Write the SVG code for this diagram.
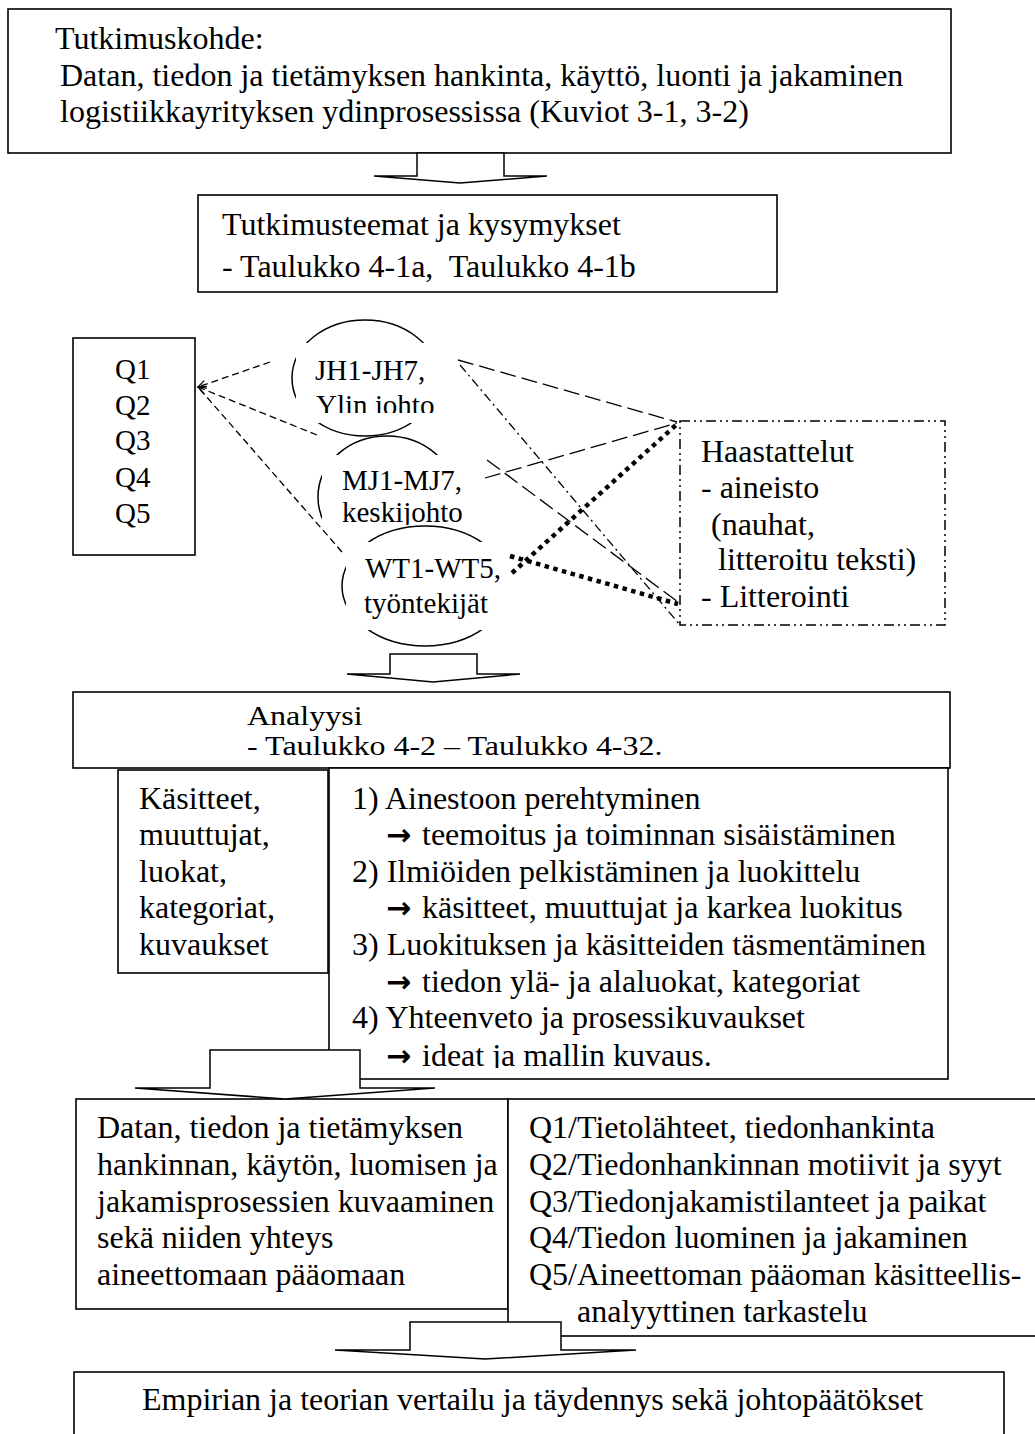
<svg xmlns="http://www.w3.org/2000/svg" width="1035" height="1434" viewBox="0 0 1035 1434">
  <style>
    .t { font-family: "Liberation Serif", "Times New Roman", serif; font-size: 32px; fill: #000; white-space: pre; }
    .s { font-size: 29px; }
    .arw { font-family: "DejaVu Sans", sans-serif; font-size: 30px; font-weight: bold; }
    .box { fill: #fff; stroke: #000; stroke-width: 1.6; }
    .ddbox { fill: #fff; stroke: #000; stroke-width: 1.5; stroke-dasharray: 10 4 2 4 2 4; }
    .oval { fill: #fff; stroke: #000; stroke-width: 1.5; }
    .cover { fill: #fff; stroke: none; }
    .short { fill: none; stroke: #000; stroke-width: 1.3; stroke-dasharray: 7 4; }
    .long { fill: none; stroke: #000; stroke-width: 1.3; stroke-dasharray: 16 6; }
    .dashdot { fill: none; stroke: #000; stroke-width: 1.3; stroke-dasharray: 9 4 2 4; }
    .thick { fill: none; stroke: #000; stroke-width: 4.5; stroke-dasharray: 4.5 4.5; }
    .block { fill: #fff; stroke: #000; stroke-width: 1.5; stroke-linejoin: miter; }
  </style>
  <defs>
    <marker id="open" markerUnits="userSpaceOnUse" markerWidth="20" markerHeight="20" refX="0" refY="0" viewBox="-10 -10 20 20" orient="auto">
      <path d="M-8,-4 L0,0 L-8,4" fill="none" stroke="#000" stroke-width="1.3"/>
    </marker>
    <clipPath id="clipJH"><rect x="290" y="330" width="160" height="83"/></clipPath>
    <clipPath id="clipMJ"><rect x="320" y="450" width="150" height="75"/></clipPath>
    <clipPath id="clipSteps"><rect x="330" y="770" width="617" height="298"/></clipPath>
  </defs>

  <!-- research object -->
  <g id="kohde">
    <rect class="box" x="8" y="9" width="943" height="144"/>
    <text class="t" x="55" y="49">Tutkimuskohde:</text>
    <text class="t" x="60" y="86">Datan, tiedon ja tietämyksen hankinta, käyttö, luonti ja jakaminen</text>
    <text class="t" x="60" y="122">logistiikkayrityksen ydinprosessissa (Kuviot 3-1, 3-2)</text>
  </g>

  <!-- themes and questions -->
  <g id="teemat">
    <rect class="box" x="198" y="195" width="579" height="97"/>
    <text class="t" x="222" y="235">Tutkimusteemat ja kysymykset</text>
    <text class="t" x="222" y="277">- Taulukko 4-1a,  Taulukko 4-1b</text>
  </g>

  <!-- question list -->
  <g id="kysymykset">
    <rect class="box" x="73" y="338" width="122" height="217"/>
    <text class="t s" x="115" y="379">Q1</text>
    <text class="t s" x="115" y="415">Q2</text>
    <text class="t s" x="115" y="450">Q3</text>
    <text class="t s" x="115" y="487">Q4</text>
    <text class="t s" x="115" y="523">Q5</text>
  </g>

  <!-- interviewee groups -->
  <g id="ylin-johto">
    <ellipse class="oval" cx="365" cy="378" rx="73" ry="58"/>
    <rect class="cover" x="296" y="343" width="150" height="80"/>
    <g clip-path="url(#clipJH)">
      <text class="t s" x="315" y="380">JH1-JH7,</text>
      <text class="t s" x="316" y="415">Ylin johto</text>
    </g>
  </g>
  <g id="keskijohto">
    <ellipse class="oval" cx="387" cy="497" rx="69" ry="61"/>
    <rect class="cover" x="322" y="455" width="143" height="105"/>
    <g clip-path="url(#clipMJ)">
      <text class="t s" x="342" y="490">MJ1-MJ7,</text>
      <text class="t s" x="342" y="522">keskijohto</text>
    </g>
  </g>
  <g id="tyontekijat">
    <ellipse class="oval" cx="425" cy="586" rx="83" ry="60"/>
    <rect class="cover" x="346" y="542" width="170" height="88"/>
    <text class="t s" x="365" y="578">WT1-WT5,</text>
    <text class="t s" x="364" y="613">työntekijät</text>
  </g>

  <!-- interviews -->
  <g id="haastattelut">
    <rect class="ddbox" x="680" y="421" width="265" height="204"/>
    <text class="t" x="701" y="462">Haastattelut</text>
    <text class="t" x="701" y="498">- aineisto</text>
    <text class="t" x="711" y="535">(nauhat,</text>
    <text class="t" x="718" y="570">litteroitu teksti)</text>
    <text class="t" x="701" y="607">- Litterointi</text>
  </g>

  <!-- analysis -->
  <g id="analyysi">
    <rect class="box" x="73" y="692" width="877" height="76"/>
    <text class="t" transform="translate(247,725) scale(1,0.87)">Analyysi</text>
    <text class="t" transform="translate(247,755) scale(1,0.87)">- Taulukko 4-2 – Taulukko 4-32.</text>
  </g>
  <g id="kasitteet">
    <rect class="box" x="118" y="770" width="210" height="203"/>
    <text class="t" x="139" y="809">Käsitteet,</text>
    <text class="t" x="139" y="845">muuttujat,</text>
    <text class="t" x="139" y="882">luokat,</text>
    <text class="t" x="139" y="918">kategoriat,</text>
    <text class="t" x="139" y="955">kuvaukset</text>
  </g>
  <g id="vaiheet">
    <rect class="box" x="329" y="768" width="619" height="311"/>
    <g clip-path="url(#clipSteps)">
      <text class="t" x="352" y="809">1) Ainestoon perehtyminen</text>
      <text class="t" y="845"><tspan class="arw" x="386">→</tspan><tspan x="422">teemoitus ja toiminnan sisäistäminen</tspan></text>
      <text class="t" x="352" y="882">2) Ilmiöiden pelkistäminen ja luokittelu</text>
      <text class="t" y="918"><tspan class="arw" x="386">→</tspan><tspan x="422">käsitteet, muuttujat ja karkea luokitus</tspan></text>
      <text class="t" x="352" y="955">3) Luokituksen ja käsitteiden täsmentäminen</text>
      <text class="t" y="992"><tspan class="arw" x="386">→</tspan><tspan x="422">tiedon ylä- ja alaluokat, kategoriat</tspan></text>
      <text class="t" x="352" y="1028">4) Yhteenveto ja prosessikuvaukset</text>
      <text class="t" y="1066"><tspan class="arw" x="386">→</tspan><tspan x="422">ideat ja mallin kuvaus.</tspan></text>
    </g>
  </g>

  <!-- results -->
  <g id="kuvaus">
    <rect class="box" x="76" y="1099" width="432" height="210"/>
    <text class="t" x="97" y="1138">Datan, tiedon ja tietämyksen</text>
    <text class="t" x="97" y="1175">hankinnan, käytön, luomisen ja</text>
    <text class="t" x="97" y="1212">jakamisprosessien kuvaaminen</text>
    <text class="t" x="97" y="1248">sekä niiden yhteys</text>
    <text class="t" x="97" y="1285">aineettomaan pääomaan</text>
  </g>
  <g id="teemavastaukset">
    <rect class="box" x="508" y="1099" width="540" height="237"/>
    <text class="t" x="529" y="1138">Q1/Tietolähteet, tiedonhankinta</text>
    <text class="t" x="529" y="1175">Q2/Tiedonhankinnan motiivit ja syyt</text>
    <text class="t" x="529" y="1212">Q3/Tiedonjakamistilanteet ja paikat</text>
    <text class="t" x="529" y="1248">Q4/Tiedon luominen ja jakaminen</text>
    <text class="t" x="529" y="1285">Q5/Aineettoman pääoman käsitteellis-</text>
    <text class="t" x="577" y="1322">analyyttinen tarkastelu</text>
  </g>

  <!-- conclusions -->
  <g id="johtopaatokset">
    <rect class="box" x="74" y="1372" width="930" height="90"/>
    <text class="t" x="142" y="1410">Empirian ja teorian vertailu ja täydennys sekä johtopäätökset</text>
  </g>

  <!-- connectors -->
  <g id="connectors">
    <line class="short" x1="270" y1="362" x2="198" y2="387" marker-end="url(#open)"/>
    <line class="short" x1="317" y1="435" x2="198" y2="387" marker-end="url(#open)"/>
    <line class="short" x1="342" y1="552" x2="198" y2="387"/>

    <line class="long" x1="458" y1="360" x2="677" y2="422"/>
    <line class="dashdot" x1="460" y1="365" x2="680" y2="625"/>
    <line class="long" x1="485" y1="478" x2="677" y2="423"/>
    <line class="long" x1="487" y1="460" x2="678" y2="602"/>
    <line class="thick" x1="512" y1="573" x2="676" y2="425"/>
    <line class="thick" x1="510" y1="556" x2="678" y2="604"/>

    <path class="block" d="M417,153 V176 H374 L460,183 L547,176 H504 V153 Z"/>
    <path class="block" d="M390,654 V674 H347 L433,682 L520,674 H477 V654 Z"/>
    <path class="block" d="M210,1050 V1088 H135 L285,1099 L435,1088 H360 V1050 Z"/>
    <path class="block" d="M410,1322 V1350 H335 L485,1359 L636,1350 H561 V1322 Z"/>
  </g>
</svg>
